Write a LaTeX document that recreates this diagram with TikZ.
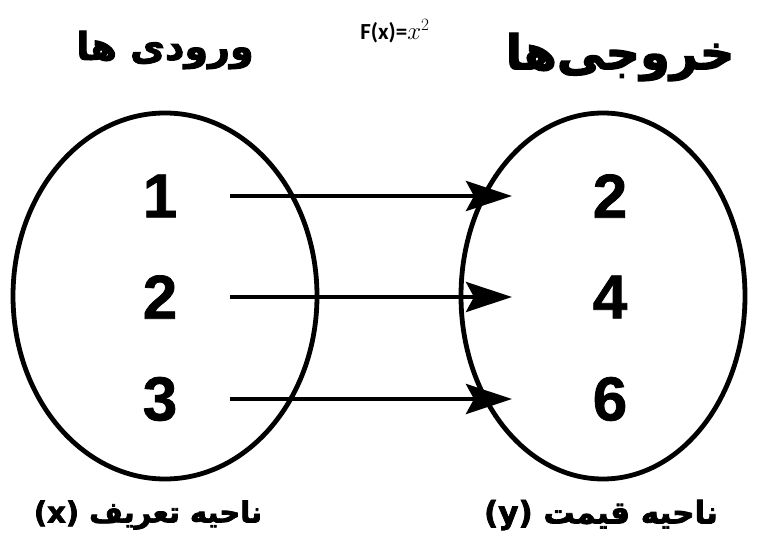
\documentclass[tikz,border=0pt]{standalone}
\usepackage{fontspec}
\usetikzlibrary{arrows.meta}
\TeXXeTstate=1
\setmainfont{Liberation Sans}
\newfontfamily\arabicfont[Script=Arabic,FakeBold=2.5]{DejaVu Sans Bold}
\newfontfamily\numfont[FakeBold=1.2]{Liberation Sans Bold}
\newfontfamily\calfont{Carlito}
\begin{document}
\begin{tikzpicture}[x=1pt,y=-1pt,
  num/.style={font=\fontsize{62}{66}\selectfont\numfont},
  maparrow/.style={line width=4.5pt,-{Stealth[length=46pt,width=30pt,inset=8pt]}},
  bottitle/.style={font=\fontsize{29}{32}\selectfont\arabicfont}]
\useasboundingbox[fill=white] (0,0) rectangle (758,545);
\draw[line width=4.8pt] (165,296) ellipse [x radius=152, y radius=183];
\draw[line width=4.8pt] (603,296) ellipse [x radius=142, y radius=183];
\node[num] (a1) at (160,196) {1};
\node[num] (a2) at (160,297) {2};
\node[num] (a3) at (160,399) {3};
\node[num] (b1) at (610,196) {2};
\node[num] (b2) at (610,297) {4};
\node[num] (b3) at (610,399) {6};
\coordinate (s1) at (230,196); \coordinate (e1) at (512,196);
\coordinate (s2) at (230,297); \coordinate (e2) at (512,297);
\coordinate (s3) at (230,399); \coordinate (e3) at (512,399);
\draw[maparrow] (s1) -- (e1);
\draw[maparrow] (s2) -- (e2);
\draw[maparrow] (s3) -- (e3);
\node[font=\fontsize{38}{40}\selectfont\arabicfont] (tin) at (165,50) {\beginR ورودی ها\endR};
\node[font=\fontsize{48}{50}\selectfont\arabicfont] (tout) at (620,57) {\beginR خروجی‌ها\endR};
\node (fx) at (395,31) {\fontsize{23}{24}\selectfont\calfont\bfseries F(x)=$x^{2}$};
\node[bottitle] (dom) at (148,515) {\beginR ناحیه تعریف \beginL(x)\endL\endR};
\node[bottitle,font=\fontsize{31}{32}\selectfont\arabicfont] (rng) at (601,515) {\beginR ناحیه قیمت \beginL(y)\endL\endR};
\end{tikzpicture}
\end{document}
